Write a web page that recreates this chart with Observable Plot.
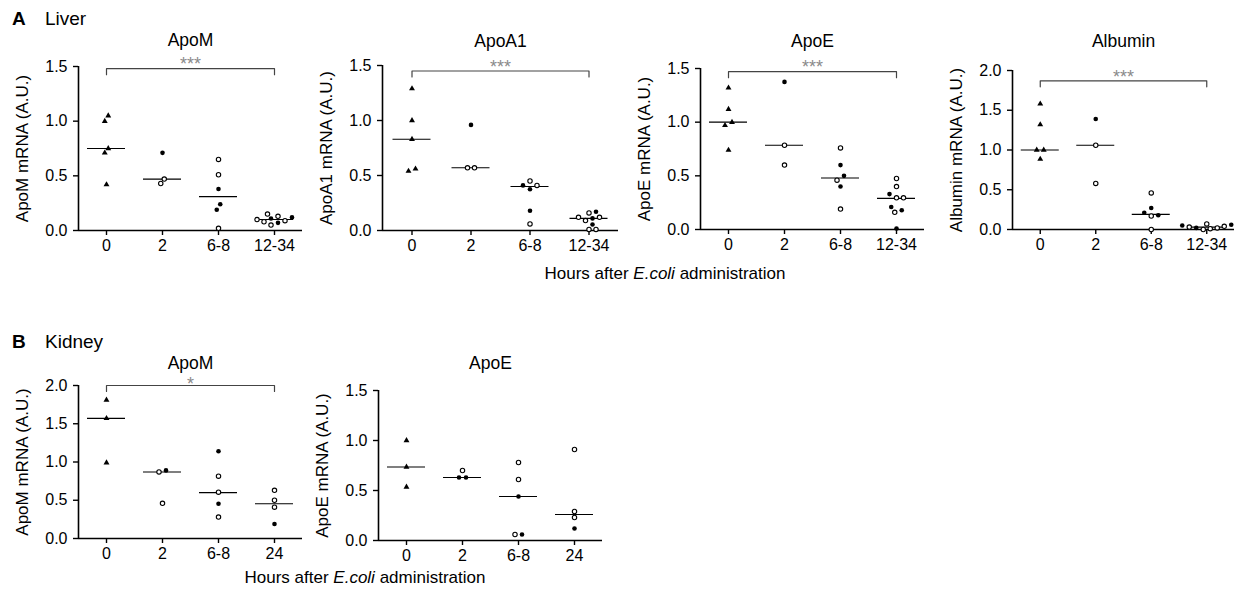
<!DOCTYPE html>
<html><head><meta charset="utf-8">
<script src="https://cdn.jsdelivr.net/npm/d3@7"></script>
<script src="https://cdn.jsdelivr.net/npm/@observablehq/plot@0.6"></script>
<style>
html,body{margin:0;padding:0;background:#fff;}
#root{position:relative;width:1234px;height:595px;overflow:hidden;font-family:"Liberation Sans",Arial,sans-serif;}
#root svg{position:absolute;overflow:visible;}
</style></head><body><div id="root"></div>
<script>
// ---------------- DATA ----------------
const liverGroups = ["0", "2", "6-8", "12-34"];
const kidneyGroups = ["0", "2", "6-8", "24"];
const yTicks15 = [0, 0.5, 1.0, 1.5];
const yTicks20 = [0, 0.5, 1.0, 1.5, 2.0];

// Liver ApoM
const liverApoM_values = [[1.0, 1.05, 0.75, 0.71, 0.42], [0.71, 0.47, 0.43], [0.65, 0.51, 0.38, 0.24, 0.19, 0.02], [0.12, 0.09, 0.15, 0.13, 0.07, 0.05, 0.08, 0.10, 0.11]];
const liverApoM_filled = [[1, 1, 1, 1, 1], [1, 0, 0], [0, 0, 1, 1, 1, 0], [1, 0, 0, 0, 1, 0, 0, 0, 1]];
const liverApoM_medians = [0.75, 0.47, 0.31, 0.10];

// Liver ApoA1
const liverApoA1_values = [[1.29, 1.0, 0.83, 0.56, 0.54], [0.96, 0.57, 0.57], [0.41, 0.45, 0.41, 0.375, 0.18, 0.06], [0.17, 0.11, 0.055, 0.16, 0.12, 0.09, 0.12, 0.01, 0.01]];
const liverApoA1_filled = [[1, 1, 1, 1, 1], [1, 0, 0], [0, 0, 1, 1, 1, 0], [1, 1, 1, 0, 0, 0, 0, 0, 0]];
const liverApoA1_medians = [0.83, 0.57, 0.40, 0.11];

// Liver ApoE
const liverApoE_values = [[1.32, 1.12, 1.0, 0.97, 0.74], [1.375, 0.785, 0.60], [0.76, 0.60, 0.50, 0.46, 0.40, 0.19], [0.475, 0.40, 0.33, 0.295, 0.295, 0.21, 0.18, 0.16, 0.01]];
const liverApoE_filled = [[1, 1, 1, 1, 1], [1, 0, 0], [0, 1, 1, 0, 1, 0], [0, 0, 1, 0, 0, 1, 1, 0, 1]];
const liverApoE_medians = [1.0, 0.785, 0.48, 0.29];

// Liver Albumin
const liverAlb_values = [[1.58, 1.32, 1.0, 1.0, 0.885], [1.39, 1.06, 0.58], [0.46, 0.27, 0.21, 0.18, 0.17, 0.0], [0.07, 0.06, 0.05, 0.04, 0.03, 0.02, 0.02, 0.01, 0.0]];
const liverAlb_filled = [[1, 1, 1, 1, 1], [1, 0, 0], [0, 1, 1, 1, 0, 0], [0, 1, 1, 0, 0, 1, 0, 0, 0]];
const liverAlb_medians = [1.0, 1.06, 0.19, 0.03];

// Kidney ApoM
const kidneyApoM_values = [[1.81, 1.57, 0.99], [0.89, 0.87, 0.46], [1.14, 0.815, 0.605, 0.455, 0.28], [0.63, 0.50, 0.41, 0.19]];
const kidneyApoM_filled = [[1, 1, 1], [1, 0, 0], [1, 0, 0, 1, 0], [0, 0, 0, 1]];
const kidneyApoM_medians = [1.57, 0.87, 0.60, 0.455];

// Kidney ApoE
const kidneyApoE_values = [[1.0, 0.735, 0.535], [0.70, 0.63, 0.63], [0.78, 0.61, 0.44, 0.06, 0.06], [0.91, 0.29, 0.23, 0.12]];
const kidneyApoE_filled = [[1, 1, 1], [0, 1, 1], [0, 0, 1, 0, 1], [0, 0, 0, 1]];
const kidneyApoE_medians = [0.735, 0.63, 0.44, 0.26];

// significance bracket levels (data units) and labels
const sigLabels = ["***", "***", "***", "***", "*"];
const sigLevels = [1.48, 1.45, 1.47, 1.87, 2.0];

// ---------------- DRAWING ----------------
const FONT = "'Liberation Sans', Arial, Helvetica, sans-serif";
const root = document.getElementById("root");

function dodge(vals, ppu) {
  const STEP = 3.5, D = 5.6;
  const order = vals.map((v, i) => i).sort((a, b) => vals[a] - vals[b]);
  const placed = [];
  for (const i of order) {
    const py = vals[i] * ppu;
    let off = 0;
    for (let k = 0; k < 60; k++) {
      const c = (k % 2 ? 1 : -1) * Math.ceil(k / 2) * STEP;
      if (placed.every(p => (p.off - c) ** 2 + (p.py - py) ** 2 >= D * D)) { off = c; break; }
    }
    placed.push({i, py, off});
  }
  placed.sort((a, b) => a.py - b.py);
  const out = new Array(vals.length).fill(0);
  let cluster = [];
  const flush = () => {
    if (!cluster.length) return;
    const lo = d3.min(cluster, p => p.off), hi = d3.max(cluster, p => p.off);
    const s = (lo + hi) / 2;
    cluster.forEach(p => out[p.i] = p.off - s);
    cluster = [];
  };
  for (let j = 0; j < placed.length; j++) {
    if (j > 0 && placed[j].py - placed[j - 1].py >= D) flush();
    cluster.push(placed[j]);
  }
  flush();
  return out;
}

function makePanel(d, L) {
  const n = d.groups.length;
  const plotW = L.width - L.mLeft - L.mRight;
  const plotH = L.height - L.mTop - L.mBottom;
  const band = plotW / n;
  const ppu = plotH / d.yMax;
  const pts = [];
  d.values.forEach((vals, g) => {
    const offs = dodge(vals, ppu);
    vals.forEach((v, i) => pts.push({g, v, x: g + offs[i] / band, filled: d.filled[g][i] === 1, tri: g === 0}));
  });
  const meds = d.medians.map((m, g) => ({g, m}));
  const hw = 19 / band;
  const tickLen = 6 / ppu;
  const marks = [
    Plot.axisY({ticks: d.yTicks, tickFormat: d3.format(".1f"), tickSize: 5, tickPadding: 6, strokeWidth: 1.4, label: null, fontSize: 16}),
    Plot.axisX({ticks: d3.range(n), tickFormat: i => d.groups[i], tickSize: 5, tickPadding: 4, strokeWidth: 1.4, label: null, fontSize: 16}),
    Plot.ruleX([-0.5], {y1: 0, y2: d.yMax, strokeWidth: 1.6, stroke: "#000"}),
    Plot.ruleY([0], {x1: -0.5, x2: n - 0.5, strokeWidth: 1.6, stroke: "#000"}),
    Plot.ruleY(meds, {y: "m", x1: e => e.g - hw, x2: e => e.g + hw, strokeWidth: 1.1, stroke: "#000"}),
    Plot.dot(pts.filter(p => p.tri), {x: "x", y: "v", symbol: "triangle", r: 2.2, fill: "#000"}),
    Plot.dot(pts.filter(p => !p.tri && p.filled), {x: "x", y: "v", r: 2.3, fill: "#000"}),
    Plot.dot(pts.filter(p => !p.tri && !p.filled), {x: "x", y: "v", r: 2.2, fill: "#fff", stroke: "#000", strokeWidth: 1.1}),
    Plot.text([d.title], {frameAnchor: "top", lineAnchor: "middle", textAnchor: "middle", dy: L.titleY - L.mTop, fontSize: 17.5}),
    Plot.text([d.ylabel], {frameAnchor: "left", textAnchor: "middle", lineAnchor: "middle", rotate: -90, dx: -55.5, fontSize: 17})
  ];
  if (d.sig) {
    const yb = d.sigLevel;
    marks.push(Plot.line([{x: 0, y: yb - tickLen}, {x: 0, y: yb}, {x: n - 1, y: yb}, {x: n - 1, y: yb - tickLen}], {x: "x", y: "y", stroke: "#444", strokeWidth: 1.2}));
    marks.push(Plot.text([d.sig], {x: (n - 1) / 2, y: yb, dy: L.sigDy, fill: "#8a8a8a", fontSize: 18}));
  }
  const svg = Plot.plot({
    width: L.width, height: L.height,
    marginLeft: L.mLeft, marginRight: L.mRight, marginTop: L.mTop, marginBottom: L.mBottom,
    x: {domain: [-0.5, n - 0.5]},
    y: {domain: [0, d.yMax]},
    style: {fontFamily: FONT, fontSize: "16px", color: "#000", background: "transparent", overflow: "visible"},
    marks
  });
  svg.style.left = L.left + "px";
  svg.style.top = L.top + "px";
  root.appendChild(svg);
}

const panels = [
  [{groups: liverGroups, values: liverApoM_values, filled: liverApoM_filled, medians: liverApoM_medians, yMax: 1.5, yTicks: yTicks15, title: "ApoM", ylabel: "ApoM mRNA (A.U.)", sig: sigLabels[0], sigLevel: sigLevels[0]},
   {left: 0, top: 0, width: 306, height: 255, mLeft: 78, mRight: 4, mTop: 66, mBottom: 25, titleY: 40, sigDy: -4}],
  [{groups: liverGroups, values: liverApoA1_values, filled: liverApoA1_filled, medians: liverApoA1_medians, yMax: 1.5, yTicks: yTicks15, title: "ApoA1", ylabel: "ApoA1 mRNA (A.U.)", sig: sigLabels[1], sigLevel: sigLevels[1]},
   {left: 304, top: 0, width: 318, height: 255, mLeft: 78, mRight: 4, mTop: 65, mBottom: 25, titleY: 41, sigDy: -4}],
  [{groups: liverGroups, values: liverApoE_values, filled: liverApoE_filled, medians: liverApoE_medians, yMax: 1.5, yTicks: yTicks15, title: "ApoE", ylabel: "ApoE mRNA (A.U.)", sig: sigLabels[2], sigLevel: sigLevels[2]},
   {left: 622, top: 0, width: 306, height: 255, mLeft: 78, mRight: 4, mTop: 68, mBottom: 26, titleY: 41, sigDy: -4}],
  [{groups: liverGroups, values: liverAlb_values, filled: liverAlb_filled, medians: liverAlb_medians, yMax: 2.0, yTicks: yTicks20, title: "Albumin", ylabel: "Albumin mRNA (A.U.)", sig: sigLabels[3], sigLevel: sigLevels[3]},
   {left: 934, top: 0, width: 300, height: 255, mLeft: 78, mRight: 0, mTop: 70, mBottom: 26, titleY: 41, sigDy: -4}],
  [{groups: kidneyGroups, values: kidneyApoM_values, filled: kidneyApoM_filled, medians: kidneyApoM_medians, yMax: 2.0, yTicks: yTicks20, title: "ApoM", ylabel: "ApoM mRNA (A.U.)", sig: sigLabels[4], sigLevel: sigLevels[4]},
   {left: 0, top: 320, width: 306, height: 243, mLeft: 78, mRight: 4, mTop: 65, mBottom: 25, titleY: 43, sigDy: -1}],
  [{groups: kidneyGroups, values: kidneyApoE_values, filled: kidneyApoE_filled, medians: kidneyApoE_medians, yMax: 1.5, yTicks: yTicks15, title: "ApoE", ylabel: "ApoE mRNA (A.U.)", sig: null},
   {left: 300, top: 320, width: 306, height: 243, mLeft: 78, mRight: 4, mTop: 70, mBottom: 23, titleY: 43}]
];
panels.forEach(([d, L]) => makePanel(d, L));

// overlay: panel letters and shared x-axis labels
const ov = d3.select(root).append("svg").attr("width", 1234).attr("height", 595)
  .style("left", "0px").style("top", "0px").style("font-family", FONT).style("pointer-events", "none");
function heading(letter, word, baseline) {
  const t = ov.append("text").attr("x", 12).attr("y", baseline).attr("font-size", 19).attr("fill", "#000");
  t.append("tspan").attr("font-weight", "bold").text(letter);
  t.append("tspan").attr("x", 45).text(word);
}
heading("A", "Liver", 25);
heading("B", "Kidney", 348);
function xlabel(cx, baseline) {
  const t = ov.append("text").attr("x", cx).attr("y", baseline).attr("text-anchor", "middle").attr("font-size", 17).attr("fill", "#000");
  t.append("tspan").text("Hours after ");
  t.append("tspan").attr("font-style", "italic").text("E.coli");
  t.append("tspan").text(" administration");
}
xlabel(665, 279);
xlabel(365, 583);
</script>
</body></html>
